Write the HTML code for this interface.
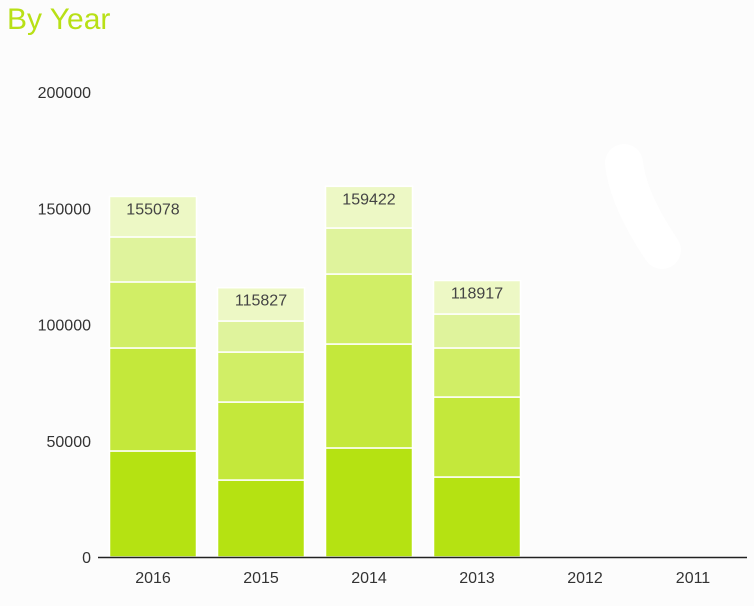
<!DOCTYPE html>
<html><head><meta charset="utf-8"><style>
body{margin:0;background:#fcfcfc;}
svg{display:block;font-family:"Liberation Sans",sans-serif;}
</style></head><body>
<svg id="c" width="754" height="606">
<rect width="754" height="606" fill="#fcfcfc"/>
<text x="7" y="29" font-size="30" fill="#b8e016">By Year</text>
<path d="M624 163 Q628 200 662 250" fill="none" stroke="#ffffff" stroke-width="38" stroke-linecap="round"/>
<g id="plot"></g>
</svg>
<script>
const categories=["2016","2015","2014","2013","2012","2011"];
const seriesA=[45600,33100,46900,34400,0,0];
const seriesB=[44300,33550,44700,34400,0,0];
const seriesC=[28400,21500,30100,21100,0,0];
const seriesD=[19350,13350,19800,14600,0,0];
const seriesE=[17428,14327,17922,14417,0,0];
const totals=[155078,115827,159422,118917,null,null];
const yTicks=[0,50000,100000,150000,200000];
const colors=["#b5e212","#c4e83b","#d1ee66","#dff39c","#edf8c5"];
const NS="http://www.w3.org/2000/svg";
const g=document.getElementById('plot');
const x0=99,x1=747,y0=557,yTop=92,yMax=200000;
const band=(x1-x0)/categories.length;
function y(v){return y0-(v/yMax)*(y0-yTop);}
function xc(i){return x0+band*(i+0.5);}
function mk(t,a){const e=document.createElementNS(NS,t);for(const k in a)e.setAttribute(k,a[k]);g.appendChild(e);return e;}
yTicks.forEach(v=>{
 const t=mk('text',{x:91,y:y(v)+6,'text-anchor':'end','font-size':16,fill:'#333'});
 t.textContent=v;
 
 
});
const series=[seriesA,seriesB,seriesC,seriesD,seriesE];
categories.forEach((c,i)=>{
 let cum=0;
 series.forEach((s,k)=>{
  const v=s[i]; if(!v) return;
  const r=mk('rect',{x:xc(i)-43.5,y:y(cum+v),width:87,height:y(cum)-y(cum+v),fill:colors[k],stroke:'#fff','stroke-width':1.5});
  
  
  cum+=v;
 });
 if(totals[i]!=null){
  const t=mk('text',{x:xc(i),y:y(totals[i])+18,'text-anchor':'middle','font-size':16,fill:'#444'});
  t.textContent=totals[i];
  
  
 }
 const l=mk('text',{x:xc(i),y:583,'text-anchor':'middle','font-size':16,fill:'#333'});
 l.textContent=c;
 
 
});
const ax=mk('line',{x1:x0-1,y1:y0+0.5,x2:x1,y2:y0+0.5,stroke:'#222','stroke-width':1.5});


</script>
</body></html>
